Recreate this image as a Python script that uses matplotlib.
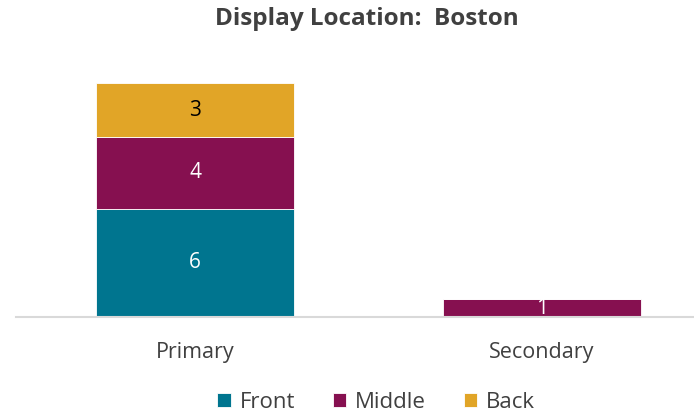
import matplotlib
matplotlib.use("Agg")
import matplotlib.pyplot as plt
import numpy as np

plt.rcParams['font.family'] = ['Open Sans', 'DejaVu Sans']

categories = ["Primary", "Secondary"]
series_names = ["Front", "Middle", "Back"]
front = [6, 0]
middle = [4, 1]
back = [3, 0]
colors = ["#00758F", "#861050", "#E1A527"]
label_colors = ["white", "white", "black"]

fig = plt.figure(figsize=(6.94, 4.13), dpi=100)
ax = fig.add_axes([16 / 694, 1 - 317 / 413, (694 - 16) / 694, (317 - 60) / 413])

x = np.arange(len(categories))
bottom = np.zeros(len(categories))
handles = []
for name, vals, col, lc in zip(series_names, [front, middle, back], colors, label_colors):
    vals = np.array(vals, dtype=float)
    bars = ax.bar(x, vals, width=0.573, bottom=bottom, color=col, edgecolor="white",
                  linewidth=0.6, label=name, zorder=2)
    handles.append(bars)
    for xi, v, b in zip(x, vals, bottom):
        if v > 0:
            ax.text(xi, b + v / 2, f"{int(v)}", ha="center", va="center",
                    color=lc, fontsize=15, zorder=3)
    bottom += vals

ax.set_xlim(-0.516, 1.438)
ax.set_ylim(0, 257 / 18)
for s in ["top", "right", "left"]:
    ax.spines[s].set_visible(False)
ax.spines["bottom"].set_color("#D9D9D9")
ax.spines["bottom"].set_linewidth(1.5)
ax.set_yticks([])
ax.set_xticks(x)
ax.set_xticklabels(categories, fontsize=15.5, color="#404040")
ax.tick_params(axis="x", length=0, pad=18)

fig.text(367 / 694, 1 - 19 / 413, "Display Location:  Boston", ha="center", va="center",
         fontsize=17.5, fontweight="bold", color="#404040")

fig.legend(handles=handles, labels=series_names, loc="center", bbox_to_anchor=(376 / 694, 1 - 402 / 413),
           ncol=3, frameon=False, fontsize=16, handlelength=0.6, handleheight=0.6,
           handletextpad=0.4, columnspacing=1.7, labelcolor="#404040")

fig.savefig("out.png", dpi=100)
